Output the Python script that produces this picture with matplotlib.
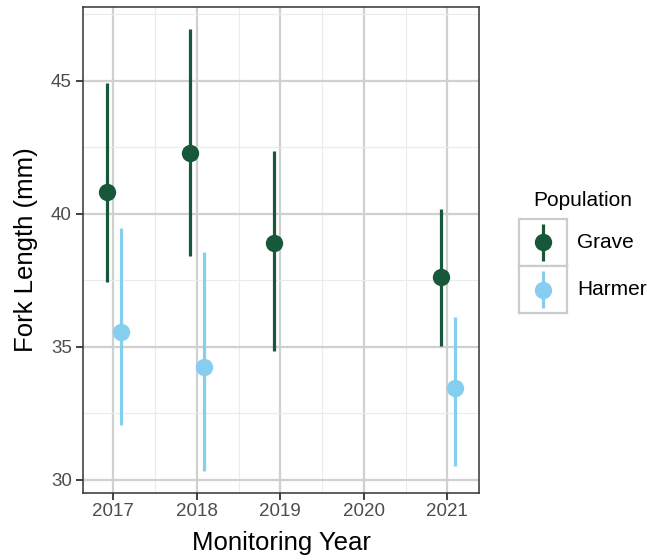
import matplotlib
matplotlib.use("Agg")
import matplotlib.pyplot as plt
from matplotlib.ticker import MultipleLocator, FixedLocator

plt.rcParams['font.family'] = ['Liberation Sans', 'DejaVu Sans']

years = [2017, 2018, 2019, 2021]
grave_mean = [40.84, 42.31, 38.90, 37.65]
grave_lo = [37.43, 38.42, 34.86, 35.05]
grave_hi = [44.93, 46.95, 42.35, 40.18]

harmer_years = [2017, 2018, 2021]
harmer_mean = [35.55, 34.26, 33.45]
harmer_lo = [32.08, 30.34, 30.54]
harmer_hi = [39.47, 38.58, 36.11]

x_ticks = [2017, 2018, 2019, 2020, 2021]
y_ticks = [30, 35, 40, 45]
populations = ["Grave", "Harmer"]
colors = {"Grave": "#17573A", "Harmer": "#86CEF0"}
dodge = {"Grave": -0.08, "Harmer": 0.09}

W, H = 647, 560
fig = plt.figure(figsize=(W / 100, H / 100), dpi=100)
ax = fig.add_axes([82.7 / W, 1 - 492.5 / H, (479.3 - 82.7) / W, (492.5 - 7.3) / H])

series = {
    "Grave": (years, grave_mean, grave_lo, grave_hi),
    "Harmer": (harmer_years, harmer_mean, harmer_lo, harmer_hi),
}
for pop in populations:
    xs, m, lo, hi = series[pop]
    xd = [x + dodge[pop] for x in xs]
    ax.vlines(xd, lo, hi, color=colors[pop], lw=2.3, zorder=3)
    ax.plot(xd, m, 'o', color=colors[pop], ms=12.5, mew=0, zorder=4)

ax.set_xlim(2016.633, 2021.383)
ax.set_ylim(29.53, 47.77)
ax.xaxis.set_major_locator(FixedLocator(x_ticks))
ax.yaxis.set_major_locator(FixedLocator(y_ticks))
ax.xaxis.set_minor_locator(MultipleLocator(0.5))
ax.yaxis.set_minor_locator(MultipleLocator(2.5))
ax.grid(which='major', color='#D0D0D0', lw=1.6, zorder=0)
ax.grid(which='minor', color='#EBEBEB', lw=0.8, zorder=0)
ax.set_axisbelow(True)
ax.tick_params(which='minor', length=0)
ax.tick_params(which='major', length=4.8, width=1.3, color='#333333',
               labelsize=13.5, labelcolor='#4D4D4D')
ax.tick_params(axis='x', pad=3)
ax.tick_params(axis='y', pad=3)
for s in ax.spines.values():
    s.set_color('#333333')
    s.set_linewidth(1.1)

fig.text(281 / W, 1 - 550 / H, "Monitoring Year", fontsize=18.5,
         ha='center', va='baseline', color='black')
fig.text(26.5 / W, 1 - 250 / H, "Fork Length (mm)", fontsize=18.5,
         ha='center', va='center', rotation=90, color='black')

# legend
fig.text(533 / W, 1 - 200 / H, "Population", fontsize=15, va='center', ha='left')
key_top = 219
key_h = 47
for i, pop in enumerate(populations):
    top = key_top + i * key_h
    kax = fig.add_axes([519 / W, 1 - (top + key_h) / H, 47.5 / W, key_h / H])
    kax.set_xlim(0, 1)
    kax.set_ylim(0, 1)
    kax.set_xticks([])
    kax.set_yticks([])
    for s in kax.spines.values():
        s.set_color('#CCCCCC')
        s.set_linewidth(1.6)
    kax.vlines([0.5], 0.1, 0.9, color=colors[pop], lw=2.3)
    kax.plot([0.5], [0.5], 'o', color=colors[pop], ms=12.5, mew=0)
    fig.text(577 / W, 1 - (top + key_h / 2) / H, pop, fontsize=15, va='center', ha='left')

fig.savefig("out.png", dpi=100)
